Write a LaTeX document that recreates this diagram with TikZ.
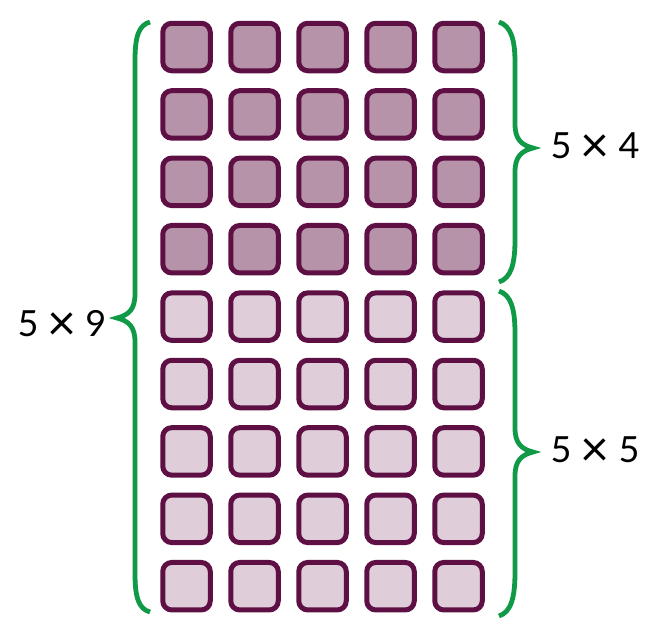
\documentclass[tikz,border=0pt]{standalone}
\usepackage{fontspec}
\setmainfont{Lato}
\definecolor{edgepurple}{HTML}{5E1045}
\definecolor{darkfill}{HTML}{B793A9}
\definecolor{lightfill}{HTML}{DFCDD9}
\definecolor{bracegreen}{HTML}{109A48}
\newcommand{\lblfont}{\fontsize{36}{42}\selectfont\spaceskip=9pt\relax}
\newcommand{\timesmark}{\raisebox{-4pt}{\fontsize{50}{50}\selectfont ×}}
\begin{document}
\begin{tikzpicture}[x=1pt,y=-1pt,
  cell/.style={draw=edgepurple,line width=5pt,rounded corners=9pt,minimum size=47.5pt,inner sep=0pt},
  topcell/.style={cell,fill=darkfill},
  botcell/.style={cell,fill=lightfill},
  brace/.style={draw=bracegreen,line width=4.8pt,line cap=butt},
  lbl/.style={font=\lblfont,inner sep=0pt}]
\useasboundingbox (0,0) rectangle (660,638);
\foreach \r in {0,...,8}{
  \foreach \c in {0,...,4}{
    \pgfmathsetmacro{\xx}{186.5+68*\c}
    \pgfmathsetmacro{\yy}{47+67.4*\r}
    \ifnum\r<4
      \node[topcell] (s\r\c) at (\xx,\yy) {};
    \else
      \node[botcell] (s\r\c) at (\xx,\yy) {};
    \fi
  }
}
% left brace
\draw[brace] (150,22) .. controls (139,25) and (135,36) .. (135,60) -- (135,294)
  .. controls (135,309) and (129,315) .. (117,318)
  .. controls (129,321) and (135,327) .. (135,342) -- (135,574)
  .. controls (135,598) and (139,609) .. (150,612);
% right upper brace
\draw[brace] (499,22) .. controls (511,26) and (515,40) .. (515,62) -- (515,124)
  .. controls (515,139) and (521,145) .. (533,148)
  .. controls (521,151) and (515,157) .. (515,172) -- (515,240)
  .. controls (515,264) and (511,278) .. (499,282);
% right lower brace
\draw[brace] (499,291) .. controls (511,295) and (515,309) .. (515,333) -- (515,428)
  .. controls (515,443) and (521,449) .. (533,452)
  .. controls (521,455) and (515,461) .. (515,476) -- (515,572)
  .. controls (515,598) and (511,612) .. (499,616);
\node[lbl] (t9) at (62,325) {5 \timesmark{} 9};
\node[lbl] (t4) at (595,148) {5 \timesmark{} 4};
\node[lbl] (t5) at (595,452) {5 \timesmark{} 5};
\end{tikzpicture}
\end{document}
